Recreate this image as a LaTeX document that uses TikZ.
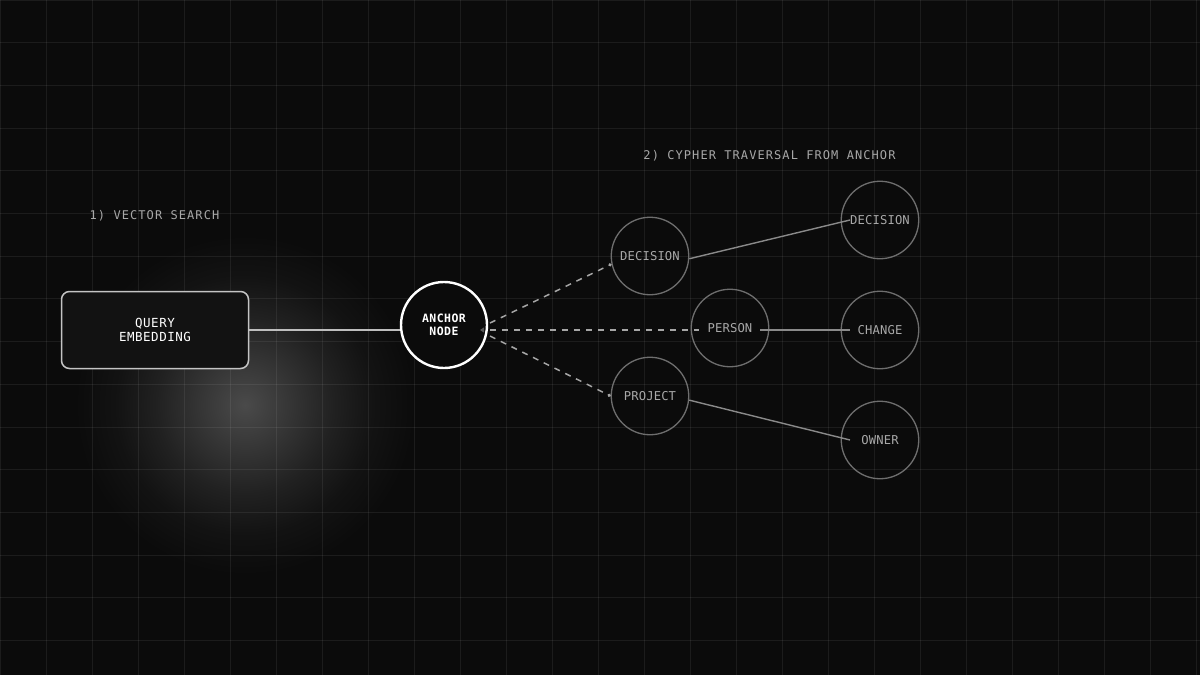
\documentclass[tikz,border=0pt]{standalone}
\usepackage{fontspec}
\setmonofont{DejaVu Sans Mono}
\newfontfamily\captionfont{DejaVu Sans Mono}[LetterSpace=9]
\newfontfamily\entityfont{DejaVu Sans Mono}[LetterSpace=1]
\newfontfamily\keyfont{DejaVu Sans Mono}[LetterSpace=4]
\usetikzlibrary{arrows.meta}

\definecolor{bg}{HTML}{0B0B0B}
\definecolor{glowc}{HTML}{4A4A4A}
\definecolor{ringgray}{HTML}{6E6E6E}
\definecolor{labelgray}{HTML}{A8A8A8}
\definecolor{edgegray}{HTML}{8A8A8A}
\definecolor{dashgray}{HTML}{A6A6A6}
\definecolor{boxgray}{HTML}{C4C4C4}
\definecolor{tipgray}{HTML}{555555}

\pgfdeclareradialshading{glow}{\pgfpoint{0bp}{0bp}}{color(0bp)=(glowc); color(7bp)=(glowc!65!bg); color(13bp)=(glowc!35!bg); color(19bp)=(glowc!12!bg); color(25bp)=(bg); color(50bp)=(bg)}

\tikzset{
  grid line/.style={draw=white, opacity=0.07, line width=1pt},
  caption/.style={text=labelgray, font=\captionfont\fontsize{12}{14}\selectfont},
  entity/.style={circle, draw=ringgray, line width=1.3pt, minimum size=77.5pt, inner sep=0pt,
    text=labelgray, font=\entityfont\fontsize{12.2}{14}\selectfont},
  anchorball/.style={circle, draw=white, line width=2.4pt, fill=bg, minimum size=86pt, inner sep=0pt,
    text=white, align=center, font=\keyfont\bfseries\fontsize{11.5}{13.4}\selectfont},
  embedbox/.style={draw=boxgray, line width=1.5pt, rounded corners=8pt, fill=bg!97!white,
    minimum width=187pt, minimum height=77pt, align=center, text=white,
    font=\keyfont\fontsize{12.5}{13.6}\selectfont},
  hop/.style={draw=dashgray, line width=1.5pt, dash pattern=on 6pt off 6pt},
  link/.style={draw=edgegray, line width=1.4pt},
}

\begin{document}
\begin{tikzpicture}[x=1pt,y=-1pt]
\useasboundingbox (0,0) rectangle (1200,675);
\fill[bg] (0,0) rectangle (1200,675);
\shade[shading=glow] (245,405) circle (170);
%\draw[help lines] (0,0) grid (1200,675);
\foreach \x in {0,46,...,1196} \draw[grid line] (\x,0) -- (\x,675);
\foreach \i in {0,...,15} \draw[grid line] (0,{\i*42.7}) -- (1200,{\i*42.7});

% step labels
\node[caption] (vec) at (154.5,216) {1) VECTOR SEARCH};
\node[caption] (cyp) at (769.5,156) {2) CYPHER TRAVERSAL FROM ANCHOR};

% query and anchor
\node[embedbox] (query) at (155,330) {QUERY\\EMBEDDING};
\node[anchorball] (anchor) at (444,325) {ANCHOR\\NODE};
\draw[draw=boxgray!110, line width=2pt] (query.east) -- (anchor.west |- query.east);

% traversal
\node[entity] (dec) at (650,256) {DECISION};
\node[entity] (person) at (730,328) {PERSON};
\node[entity] (proj) at (650,396) {PROJECT};
\node[entity] (dec2) at (880,220) {DECISION};
\node[entity] (change) at (880,330) {CHANGE};
\node[entity] (owner) at (880,440) {OWNER};

\draw[hop, -{Circle[length=3pt]}] ([xshift=46pt,yshift=2pt]anchor.center) -- (dec.192);
\draw[hop, dash phase=6pt, {Triangle[length=4pt,width=5pt,color=tipgray]}-] ([xshift=36pt,yshift=-5pt]anchor.center) -- ([xshift=-31pt,yshift=-2pt]person.center);
\draw[hop, -{Circle[length=3pt]}] ([xshift=46pt,yshift=-11pt]anchor.center) -- (proj.west);

\draw[link] (dec.-4) -- ([xshift=-30pt]dec2.center);
\draw[link] ([xshift=30pt,yshift=-2pt]person.center) -- ([xshift=-30pt]change.center);
\draw[link] (proj.-6) -- ([xshift=-30pt]owner.center);
\end{tikzpicture}
\end{document}
